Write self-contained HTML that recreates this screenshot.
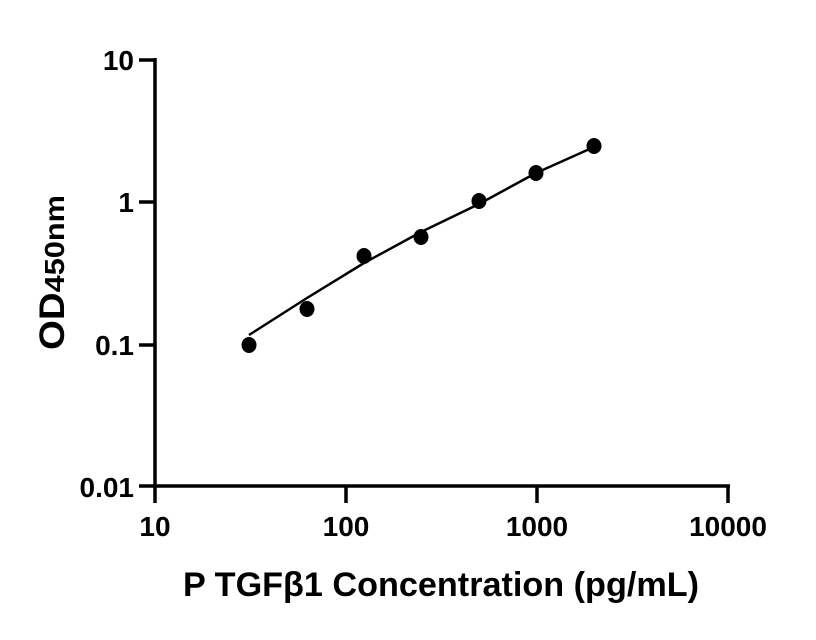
<!DOCTYPE html>
<html><head><meta charset="utf-8"><style>
html,body{margin:0;padding:0;background:#fff;}
svg{display:block;}
text{font-family:"Liberation Sans",Arial,sans-serif;font-weight:bold;fill:#000;}
</style></head><body>
<svg width="816" height="640" viewBox="0 0 816 640" xmlns="http://www.w3.org/2000/svg">
<g stroke="#000" stroke-width="3.5" fill="none">
<line x1="155" y1="58" x2="155" y2="488"/>
<line x1="153" y1="486" x2="730" y2="486"/>
<line x1="139" y1="60" x2="155" y2="60"/>
<line x1="139" y1="202" x2="155" y2="202"/>
<line x1="139" y1="345" x2="155" y2="345"/>
<line x1="139" y1="486" x2="155" y2="486"/>
<line x1="155" y1="486" x2="155" y2="503"/>
<line x1="346" y1="486" x2="346" y2="503"/>
<line x1="537" y1="486" x2="537" y2="503"/>
<line x1="728" y1="486" x2="728" y2="503"/>
</g>
<g font-size="28" text-anchor="end">
<text x="134" y="70">10</text>
<text x="134" y="212">1</text>
<text x="134" y="355">0.1</text>
<text x="134" y="497">0.01</text>
</g>
<g font-size="28" text-anchor="middle">
<text x="155" y="536">10</text>
<text x="346" y="536">100</text>
<text x="537" y="536">1000</text>
<text x="728" y="536">10000</text>
</g>
<text x="441" y="596" font-size="34" text-anchor="middle" textLength="516" lengthAdjust="spacingAndGlyphs">P TGFβ1 Concentration (pg/mL)</text>
<text transform="translate(64,350) rotate(-90)" font-size="35" textLength="155" lengthAdjust="spacingAndGlyphs">OD<tspan font-size="28">450nm</tspan></text>
<path d="M249,335 L307,298 L364,263 L421,232 L479,204 L536,173 L594,147" stroke="#000" stroke-width="2.5" fill="none" stroke-linejoin="round"/>
<g fill="#000">
<ellipse cx="249" cy="345" rx="7.5" ry="8"/>
<ellipse cx="307" cy="309" rx="7.5" ry="8"/>
<ellipse cx="364" cy="256" rx="7.5" ry="8"/>
<ellipse cx="421" cy="237" rx="7.5" ry="8"/>
<ellipse cx="479" cy="201" rx="7.5" ry="8"/>
<ellipse cx="536" cy="173" rx="7.5" ry="8"/>
<ellipse cx="594" cy="146" rx="7.5" ry="8"/>
</g>
</svg>
</body></html>
